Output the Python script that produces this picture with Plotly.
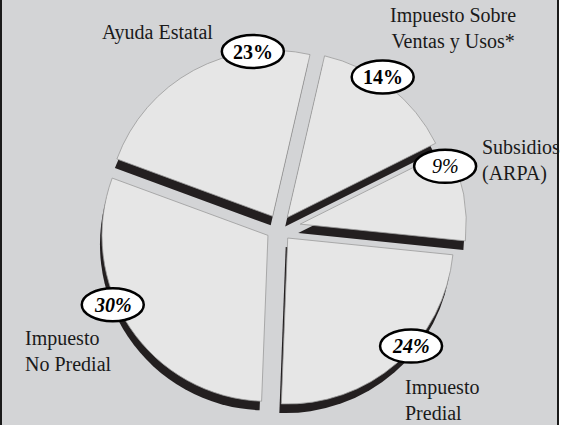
import math
import plotly.graph_objects as go

# ---- data ----
labels = ["Impuesto Sobre Ventas y Usos*", "Subsidios (ARPA)", "Impuesto Predial",
          "Impuesto No Predial", "Ayuda Estatal"]
values = [14, 9, 24, 30, 23]
pct_text = ["14%", "9%", "24%", "30%", "23%"]
label_text = ["Impuesto Sobre<br>Ventas y Usos*", "Subsidios<br>(ARPA)", "Impuesto<br>Predial",
              "Impuesto<br>No Predial", "Ayuda Estatal"]

# ---- geometry / style ----
W, H = 575, 425
pulls = [0.08, 0.13, 0.08, 0.08, 0.08]
rotation = 13
R = 166
CX, CY = 279, 228
SHX, SHY = -2, 9
maxp = max(pulls)
half = R * (1 + maxp)

def dom(dx=0, dy=0):
    return dict(x=[(CX + dx - half) / W, (CX + dx + half) / W],
                y=[(H - CY - dy - half) / H, (H - CY - dy + half) / H])

BG = "#d3d4d6"
FACE = "#e6e6e6"
SHADOW = "#231f20"
SERIF = "Liberation Serif"

fig = go.Figure()
fig.add_trace(go.Pie(labels=labels, values=values, sort=False, direction="clockwise",
                     rotation=rotation, pull=pulls, domain=dom(SHX, SHY),
                     marker=dict(colors=[SHADOW] * 5, line=dict(color=SHADOW, width=0)),
                     textinfo="none", hoverinfo="skip", showlegend=False))
fig.add_trace(go.Pie(labels=labels, values=values, sort=False, direction="clockwise",
                     rotation=rotation, pull=pulls, domain=dom(),
                     marker=dict(colors=[FACE] * 5, line=dict(color="#9a9a9a", width=0.8)),
                     textinfo="none", hoverinfo="skip", showlegend=False))

# percentage ellipses placed on the outer arc of each slice
frac = [0.42, 0.15, 0.41, 0.59, 0.76]
radial = [4, -10, -2, 4, 0]
pct_style = [("normal", "bold"), ("italic", "normal"), ("italic", "bold"),
             ("italic", "bold"), ("normal", "bold")]
total = sum(values)
start = 90 - rotation
cum = 0
shapes = []
annotations = []
EW, EH = 31, 16.5
for i, v in enumerate(values):
    a0 = start - cum * 360 / total
    a1 = a0 - v * 360 / total
    cum += v
    b = math.radians((a0 + a1) / 2)
    la = math.radians(a0 - frac[i] * (a0 - a1))
    rr = R + radial[i]
    px = CX + pulls[i] * R * math.cos(b) + rr * math.cos(la)
    py = CY - pulls[i] * R * math.sin(b) - rr * math.sin(la)
    shapes.append(dict(type="circle", xref="paper", yref="paper",
                       x0=(px - EW) / W, x1=(px + EW) / W,
                       y0=1 - (py + EH) / H, y1=1 - (py - EH) / H,
                       fillcolor="white", line=dict(color="black", width=2.5), layer="above"))
    annotations.append(dict(x=px / W, y=1 - py / H, xref="paper", yref="paper",
                            xanchor="center", yanchor="middle",
                            text=pct_text[i], showarrow=False,
                            font=dict(family=SERIF, size=20, color="black",
                                      style=pct_style[i][0], weight=pct_style[i][1])))

# category labels
lab_pos = [(453, 28, "center"), (480, 160, "left"), (403, 400, "left"),
           (23, 351, "left"), (100, 33, "left")]
for i, t in enumerate(label_text):
    x, y, al = lab_pos[i]
    annotations.append(dict(x=x / W, y=1 - y / H, xref="paper", yref="paper", text=t,
                            showarrow=False, xanchor="center" if al == "center" else "left",
                            yanchor="middle", align=al,
                            font=dict(family=SERIF, size=20, color="#1a1a1a")))

# panel background and frame
shapes.insert(0, dict(type="rect", xref="paper", yref="paper",
                      x0=1 / W, x1=558 / W, y0=-0.02, y1=1.02,
                      fillcolor=BG, line=dict(color="#1a1a1a", width=2), layer="below"))

fig.update_layout(width=W, height=H, margin=dict(l=0, r=0, t=0, b=0),
                  paper_bgcolor="white", plot_bgcolor="white",
                  shapes=shapes, annotations=annotations, showlegend=False)
fig.write_html("out.html", config={"displayModeBar": False},
               post_script="document.body.style.margin='0';document.body.style.overflow='hidden';")
